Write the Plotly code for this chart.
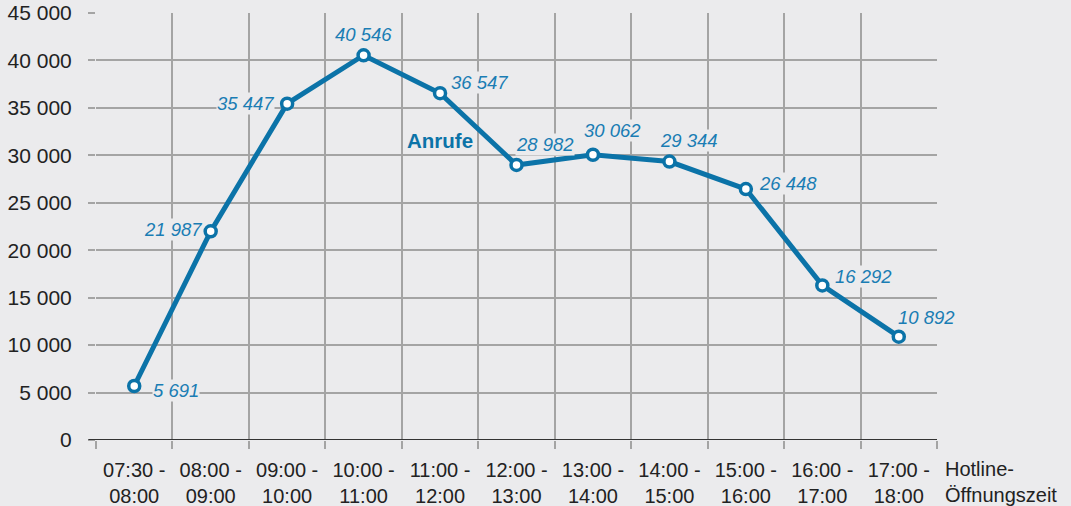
import plotly.graph_objects as go

categories = ["07:30 -<br>08:00", "08:00 -<br>09:00", "09:00 -<br>10:00", "10:00 -<br>11:00",
              "11:00 -<br>12:00", "12:00 -<br>13:00", "13:00 -<br>14:00", "14:00 -<br>15:00",
              "15:00 -<br>16:00", "16:00 -<br>17:00", "17:00 -<br>18:00"]
calls = [5691, 21987, 35447, 40546, 36547, 28982, 30062, 29344, 26448, 16292, 10892]
series_name = "Anrufe"
x_title = "Hotline-<br>Öffnungszeit"
y_ticks = [0, 5000, 10000, 15000, 20000, 25000, 30000, 35000, 40000, 45000]

# label offsets in pixels (style only)
label_shift = [(42, -4), (-38, 2), (-42, 0), (0, 21), (39, 11), (28, 20), (20, 24), (20, 21), (42, 6), (41, 9), (28, 19)]

BG = "#ebebed"
BLUE = "#0b73a8"
LBLUE = "#1a7db4"
GRID = "#a4a4a4"
FONT = "Liberation Sans, Arial, sans-serif"

fig = go.Figure()
fig.add_trace(go.Scatter(
    x=categories, y=calls, mode="lines+markers",
    line=dict(color=BLUE, width=5),
    marker=dict(size=11, color="white", line=dict(color=BLUE, width=3.5)),
    showlegend=False, hoverinfo="skip"))

def fmt(v):
    return f"{v:,}".replace(",", " ")

for c, v, (dx, dy) in zip(categories, calls, label_shift):
    fig.add_annotation(x=c, y=v, text=fmt(v), showarrow=False, xshift=dx, yshift=dy,
                       font=dict(family=FONT, size=18.5, color=LBLUE, style="italic"),
                       bgcolor=BG, borderpad=0)

fig.add_annotation(x=categories[4], y=31600, text="<b>" + series_name + "</b>", showarrow=False,
                   font=dict(family=FONT, size=20.5, color=BLUE))

fig.add_annotation(xref="paper", yref="paper", x=1.0, y=0, xanchor="left", yanchor="top",
                   xshift=6, yshift=-16, text=x_title, showarrow=False, align="left",
                   font=dict(family=FONT, size=20, color="#222222"))

fig.update_layout(
    width=1071, height=506,
    margin=dict(l=96, r=134, t=13, b=66, autoexpand=False),
    paper_bgcolor=BG, plot_bgcolor=BG,
    separators=", ",
    font=dict(family=FONT, size=20, color="#222222"),
)
fig.update_xaxes(type="category", tickson="boundaries", ticks="outside", ticklen=8,
                 tickcolor=GRID, tickwidth=1.5, showgrid=True, gridcolor=GRID,
                 gridwidth=1.5, range=[-0.5, 10.5], showline=False, zeroline=False,
                 automargin=False, ticklabelstandoff=16,
                 tickfont=dict(size=20, color="#222222"))
fig.update_yaxes(range=[0, 45000], tickvals=y_ticks, tickformat=",d", ticks="outside",
                 ticklen=7, tickcolor=GRID, tickwidth=1.5, showgrid=True,
                 gridcolor=GRID, gridwidth=1.5, zeroline=False, showline=False,
                 automargin=False, ticklabelstandoff=12,
                 tickfont=dict(size=21, color="#222222"))
# baseline
fig.add_shape(type="line", xref="paper", yref="y", x0=-0.009, x1=1, y0=0, y1=0,
              line=dict(color="#333333", width=2))

fig.write_html("out.html", config={"displayModeBar": False},
               post_script="document.body.style.margin='0';document.body.style.overflow='hidden';")
